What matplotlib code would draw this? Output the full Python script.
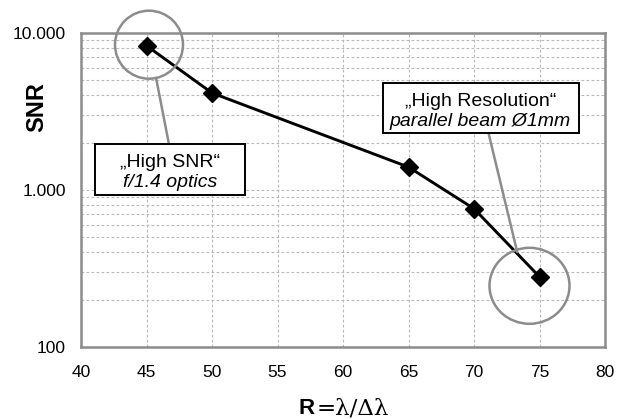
import matplotlib
matplotlib.use("Agg")
import matplotlib.pyplot as plt
from matplotlib.patches import Ellipse, Rectangle
from matplotlib.ticker import FixedLocator, FuncFormatter, NullFormatter
import matplotlib.transforms as mtransforms

# Data
resolution = [45, 50, 65, 70, 75]
snr = [8300, 4150, 1400, 760, 280]
x_ticks = [40, 45, 50, 55, 60, 65, 70, 75, 80]
y_ticks = [100, 1000, 10000]
y_tick_labels = ["100", "1.000", "10.000"]
y_minor = [200, 300, 400, 500, 600, 700, 800, 900,
           2000, 3000, 4000, 5000, 6000, 7000, 8000, 9000]

plt.rcParams['font.family'] = ['Liberation Sans', 'DejaVu Sans']

fig = plt.figure(figsize=(6.17, 4.19), dpi=100)
ax = fig.add_axes([81/617, 1-347/419, (605-81)/617, (347-33)/419])

ax.set_yscale('log')
ax.set_xlim(40, 80)
ax.set_ylim(100, 10000)

ax.xaxis.set_major_locator(FixedLocator(x_ticks))
ax.yaxis.set_major_locator(FixedLocator(y_ticks))
ax.yaxis.set_minor_locator(FixedLocator(y_minor))
ax.yaxis.set_major_formatter(FuncFormatter(
    lambda v, p: y_tick_labels[y_ticks.index(round(v))] if round(v) in y_ticks else ""))
ax.yaxis.set_minor_formatter(NullFormatter())
ax.tick_params(axis='both', which='both', length=0, labelsize=12.5, colors='black')
ax.tick_params(axis='x', pad=13)
ax.tick_params(axis='y', pad=11)

grid_kw = dict(color='#b8b8b8', linestyle=(0, (2.5, 2)), linewidth=0.8)
ax.grid(True, which='major', axis='x', **grid_kw)
ax.grid(True, which='both', axis='y', **grid_kw)
ax.set_axisbelow(True)

for s in ax.spines.values():
    s.set_color('#8c8c8c')
    s.set_linewidth(1.8)

ax.plot(resolution, snr, color='black', lw=2.1, marker='D', ms=9, zorder=5)

fig.text(37/617, 1-107/419, 'SNR', fontsize=17, fontweight='bold', rotation=90,
         ha='center', va='center')
fig.text(299/617, 1-414/419, 'R', fontsize=16, fontweight='bold', ha='left', va='baseline',
         family=['Liberation Sans'])
fig.text(317/617, 1-414/419, '=λ/Δλ', fontsize=16.5, ha='left', va='baseline',
         family=['DejaVu Serif'])

gray = '#8c8c8c'

def px_trans(x, y):
    return fig.dpi_scale_trans + mtransforms.ScaledTranslation(x, y, ax.transData)

def circle_at(x, y, dx_px, dy_px, w_px, h_px):
    e = Ellipse((dx_px/100, dy_px/100), w_px/100, h_px/100, transform=px_trans(x, y),
                fill=False, edgecolor=gray, lw=1.8, zorder=6, clip_on=False)
    ax.add_artist(e)

circle_at(resolution[0], snr[0], 2.5, 1, 68, 68)
circle_at(resolution[-1], snr[-1], -10, -9, 80, 76)

def connector(p_from, p_to):
    ax.annotate('', xy=p_to, xytext=p_from, xycoords='data', textcoords='data',
                arrowprops=dict(arrowstyle='-', color=gray, lw=1.8, shrinkA=0, shrinkB=0),
                zorder=6, annotation_clip=False)

connector((45.73, 5170), (46.8, 1800))
connector((73.3, 403), (71.0, 2510))

def callout(line1, line2, center, w_px, h_px):
    r = Rectangle((-w_px/200, -h_px/200), w_px/100, h_px/100, transform=px_trans(*center),
                  fc='white', ec='black', lw=1.4, zorder=7, clip_on=False)
    ax.add_artist(r)
    ax.annotate(line1, xy=center, xytext=(0, 2), textcoords='offset pixels',
                ha='center', va='baseline', fontsize=14, zorder=8)
    ax.annotate(line2, xy=center, xytext=(0, -17.5), textcoords='offset pixels',
                ha='center', va='baseline', fontsize=14, style='italic', zorder=8)

callout('„High SNR“', 'f/1.4 optics', (46.8, 1352), 150, 51)
callout('„High Resolution“', 'parallel beam Ø1mm', (70.5, 3325), 196, 50)

plt.savefig('out.png', dpi=100)
